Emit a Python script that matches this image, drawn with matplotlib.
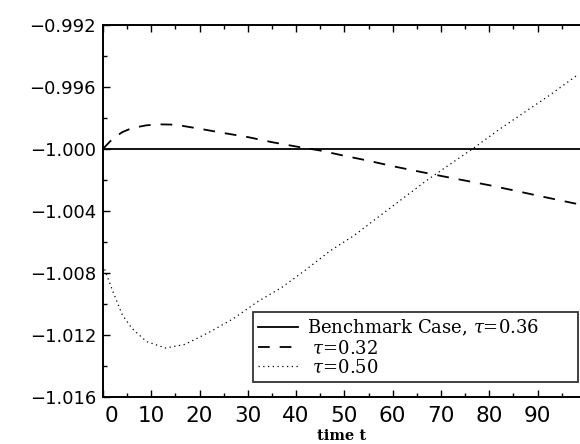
import matplotlib
matplotlib.use("Agg")
import matplotlib.pyplot as plt
from matplotlib.ticker import MultipleLocator, FuncFormatter
import matplotlib.transforms as mtransforms

# ---------------- data ----------------
t_bench = [0.0, 98.8]
v_bench = [-1.0000, -1.0000]

t_032 = [0, 2, 4, 6, 9, 12, 15, 20, 25, 30, 35, 40, 45, 50, 55, 60,
         65, 70, 75, 80, 85, 90, 95, 98.5]
v_032 = [-1.00000, -0.99935, -0.99892, -0.99866, -0.99848, -0.99842,
         -0.99844, -0.99870, -0.99898, -0.99924, -0.99957, -0.99985,
         -1.00011, -1.00045, -1.00077, -1.00112, -1.00144, -1.00175,
         -1.00205, -1.00235, -1.00268, -1.00302, -1.00335, -1.00358]

t_050 = [0, 2, 4, 6, 9, 13, 17, 22, 27, 32, 37, 42, 47, 52, 57, 62,
         67, 72, 77, 82, 87, 92, 98.5]
v_050 = [-1.00750, -1.00918, -1.01073, -1.01160, -1.01245, -1.01287,
         -1.01263, -1.01185, -1.01097, -1.00988, -1.00896, -1.00782,
         -1.00660, -1.00560, -1.00441, -1.00323, -1.00205, -1.00097,
         -0.99990, -0.99876, -0.99770, -0.99665, -0.99518]

labels = ["Benchmark Case, $\\tau$=0.36", " $\\tau$=0.32", " $\\tau$=0.50"]
x_ticks = [0, 10, 20, 30, 40, 50, 60, 70, 80, 90]
y_ticks = [-1.016, -1.012, -1.008, -1.004, -1.000, -0.996, -0.992]
x_label = "time t"

# ---------------- figure ----------------
plt.rcParams['mathtext.fontset'] = 'dejavuserif'
fig = plt.figure(figsize=(5.8, 4.44), dpi=100)
ax = fig.add_axes([103/580, 1 - 396.5/444, 1 - 103/580, (396.5 - 25)/444])

ax.plot(t_bench, v_bench, color='black', lw=1.3, ls='-', label=labels[0])
ax.plot(t_032, v_032, color='black', lw=1.3, ls=(0, (6.5, 5.5)), label=labels[1])
ax.plot(t_050, v_050, color='black', lw=0.9, ls=(0, (1.0, 2.8)), label=labels[2])

ax.set_xlim(0, 98.8)
ax.set_ylim(-1.016, -0.992)
ax.set_xticks(x_ticks)
ax.set_yticks(y_ticks)
ax.xaxis.set_minor_locator(MultipleLocator(5))
ax.yaxis.set_minor_locator(MultipleLocator(0.002))
ax.yaxis.set_major_formatter(FuncFormatter(lambda v, p: f"{v:.3f}".replace('-', '\u2212')))

for s in ['left', 'bottom', 'top']:
    ax.spines[s].set_linewidth(1.4)
ax.spines['right'].set_visible(False)

ax.tick_params(axis='both', which='both', direction='in', top=True, right=False,
               width=1.0, color='black')
ax.tick_params(axis='both', which='major', length=5)
ax.tick_params(axis='both', which='minor', length=3)
ax.tick_params(axis='x', which='major', labelsize=15.5, pad=7)
ax.tick_params(axis='y', which='major', labelsize=13, pad=5)
for lab in ax.get_xticklabels() + ax.get_yticklabels():
    lab.set_family('DejaVu Sans')

# shift the "0" x tick label slightly right, as in the reference
offset = mtransforms.ScaledTranslation(8/100, 0, fig.dpi_scale_trans)
xl = ax.get_xticklabels()
xl[0].set_transform(xl[0].get_transform() + offset)

ax.set_xlabel(x_label, fontsize=10.5, fontweight='bold', family='DejaVu Serif', labelpad=2)

leg = ax.legend(loc='lower left', bbox_to_anchor=(0.3145, 0.039, 0.6815, 0.186),
                mode='expand', frameon=True, fancybox=False, shadow=False,
                prop={'family': 'DejaVu Serif', 'size': 13},
                handlelength=2.2, handletextpad=0.5, borderpad=0.3,
                labelspacing=0.08, borderaxespad=0.0)
leg.get_frame().set_edgecolor('black')
leg.get_frame().set_linewidth(1.3)

fig.savefig('out.png', dpi=100)
